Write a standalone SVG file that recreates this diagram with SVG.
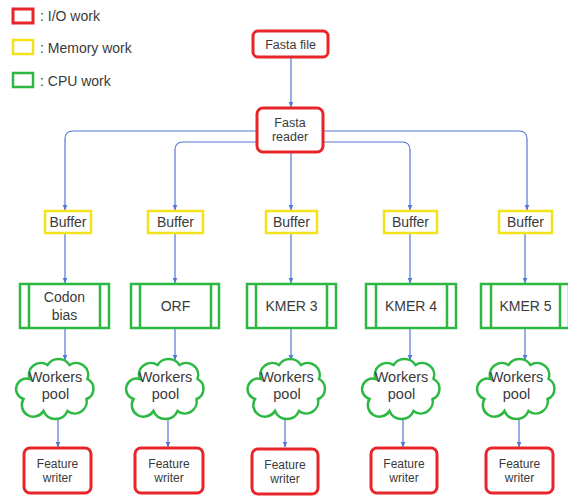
<svg xmlns="http://www.w3.org/2000/svg" width="568" height="499" viewBox="0 0 568 499">
<defs>
<style>
text{font-family:"Liberation Sans",Arial,sans-serif;fill:#3a3a3a;text-anchor:middle}
.io{fill:#fff;stroke:#e8262a;stroke-width:3}
.mem{fill:#fff;stroke:#f2e31b;stroke-width:2.5}
.cpu{fill:#fff;stroke:#2db843;stroke-width:2.5}
.cl{fill:#fff;stroke:#2db843;stroke-width:2.5}
.conn path{fill:none;stroke:#5476d6;stroke-width:1.2;marker-end:url(#ah)}
.lg{text-anchor:start;font-size:14px}
</style>
<marker id="ah" viewBox="0 0 6 6" refX="5.5" refY="3" markerWidth="6" markerHeight="6" markerUnits="userSpaceOnUse" orient="auto">
<path d="M0,0.5 L6,3 L0,5.5 Z" fill="#5476d6"/>
</marker>
<path id="cloud" d="M-26,-8 A12 12 0 0 1 -8,-22 A13 13 0 0 1 14,-22 A12 12 0 0 1 32,-8 A11 11 0 0 1 31,12 A12 12 0 0 1 12,24 A13 13 0 0 1 -12,24 A11 11 0 0 1 -32,12 A10 10 0 0 1 -26,-8 Z"/>
</defs>
<rect width="568" height="499" fill="#fff"/>

<g id="legend">
<rect x="13" y="9" width="20" height="14" class="io" stroke-width="2.5"/>
<text x="40" y="21" class="lg">: I/O work</text>
<rect x="13" y="40" width="20" height="14" class="mem"/>
<text x="40" y="53" class="lg">: Memory work</text>
<rect x="13" y="73" width="20" height="14" class="cpu"/>
<text x="40" y="86" class="lg">: CPU work</text>
</g>

<g class="conn" id="connectors">
<path d="M291,57 V107"/>
<path d="M291,153 V210"/>
<path d="M257,131 H73 Q65,131 65,139 V210"/>
<path d="M323,131 H519 Q527,131 527,139 V210"/>
<path d="M257,142 H183 Q175,142 175,150 V210"/>
<path d="M323,142 H402 Q410,142 410,150 V210"/>
<path d="M65,233 V283"/>
<path d="M175,233 V283"/>
<path d="M291,233 V283"/>
<path d="M410,233 V283"/>
<path d="M525,233 V283"/>
<path d="M65,329 V360"/>
<path d="M175,329 V360"/>
<path d="M291,329 V360"/>
<path d="M410,329 V360"/>
<path d="M525,329 V360"/>
<path d="M58,414 V447"/>
<path d="M168,414 V447"/>
<path d="M285,414 V447"/>
<path d="M403,414 V447"/>
<path d="M519,414 V447"/>
</g>

<g id="fasta-file">
<rect x="253" y="31" width="75" height="26" rx="5" class="io"/>
<text x="290.5" y="48.5" font-size="12.5">Fasta file</text>
</g>
<g id="fasta-reader">
<rect x="257" y="108" width="66" height="44" rx="6" class="io"/>
<text x="290" y="127" font-size="12.5">Fasta</text>
<text x="290" y="141" font-size="12.5">reader</text>
</g>

<g id="buffer1"><rect x="45" y="211" width="46" height="22" class="mem"/><text x="68" y="227" font-size="14">Buffer</text></g>
<g id="buffer2"><rect x="148" y="211" width="55" height="22" class="mem"/><text x="175.5" y="227" font-size="14">Buffer</text></g>
<g id="buffer3"><rect x="266" y="211" width="51" height="22" class="mem"/><text x="291.5" y="227" font-size="14">Buffer</text></g>
<g id="buffer4"><rect x="384" y="211" width="53" height="22" class="mem"/><text x="410.5" y="227" font-size="14">Buffer</text></g>
<g id="buffer5"><rect x="499" y="211" width="53" height="22" class="mem"/><text x="525.5" y="227" font-size="14">Buffer</text></g>

<g id="codon-bias">
<rect x="20" y="284" width="89" height="44" class="cpu"/>
<path d="M29,284 V328 M100,284 V328" class="cpu"/>
<text x="64.5" y="302" font-size="14">Codon</text>
<text x="64.5" y="320" font-size="14">bias</text>
</g>
<g id="orf">
<rect x="131" y="284" width="88" height="44" class="cpu"/>
<path d="M140,284 V328 M211,284 V328" class="cpu"/>
<text x="175.5" y="311" font-size="14">ORF</text>
</g>
<g id="kmer3">
<rect x="247" y="284" width="89" height="44" class="cpu"/>
<path d="M256,284 V328 M327,284 V328" class="cpu"/>
<text x="291.5" y="311" font-size="14">KMER 3</text>
</g>
<g id="kmer4">
<rect x="366" y="284" width="90" height="44" class="cpu"/>
<path d="M376,284 V328 M447,284 V328" class="cpu"/>
<text x="411" y="311" font-size="14">KMER 4</text>
</g>
<g id="kmer5">
<rect x="481" y="284" width="88" height="44" class="cpu"/>
<path d="M491,284 V328 M560,284 V328" class="cpu"/>
<text x="525.5" y="311" font-size="14">KMER 5</text>
</g>

<g id="pool1" transform="translate(55.5,387)"><use href="#cloud" class="cl"/><text y="-5" font-size="14.5">Workers</text><text y="12" font-size="14.5">pool</text></g>
<g id="pool2" transform="translate(165.5,387)"><use href="#cloud" class="cl"/><text y="-5" font-size="14.5">Workers</text><text y="12" font-size="14.5">pool</text></g>
<g id="pool3" transform="translate(287,387)"><use href="#cloud" class="cl"/><text y="-5" font-size="14.5">Workers</text><text y="12" font-size="14.5">pool</text></g>
<g id="pool4" transform="translate(401.5,387)"><use href="#cloud" class="cl"/><text y="-5" font-size="14.5">Workers</text><text y="12" font-size="14.5">pool</text></g>
<g id="pool5" transform="translate(516.5,387)"><use href="#cloud" class="cl"/><text y="-5" font-size="14.5">Workers</text><text y="12" font-size="14.5">pool</text></g>

<g id="writer1"><rect x="24" y="448" width="67" height="45" rx="6" class="io"/><text x="57.5" y="468" font-size="12">Feature</text><text x="57.5" y="482" font-size="12">writer</text></g>
<g id="writer2"><rect x="135" y="448" width="68" height="45" rx="6" class="io"/><text x="169" y="468" font-size="12">Feature</text><text x="169" y="482" font-size="12">writer</text></g>
<g id="writer3"><rect x="252" y="449" width="66" height="45" rx="6" class="io"/><text x="285" y="469" font-size="12">Feature</text><text x="285" y="483" font-size="12">writer</text></g>
<g id="writer4"><rect x="371" y="448" width="66" height="45" rx="6" class="io"/><text x="404" y="468" font-size="12">Feature</text><text x="404" y="482" font-size="12">writer</text></g>
<g id="writer5"><rect x="486" y="448" width="67" height="45" rx="6" class="io"/><text x="519.5" y="468" font-size="12">Feature</text><text x="519.5" y="482" font-size="12">writer</text></g>
</svg>
